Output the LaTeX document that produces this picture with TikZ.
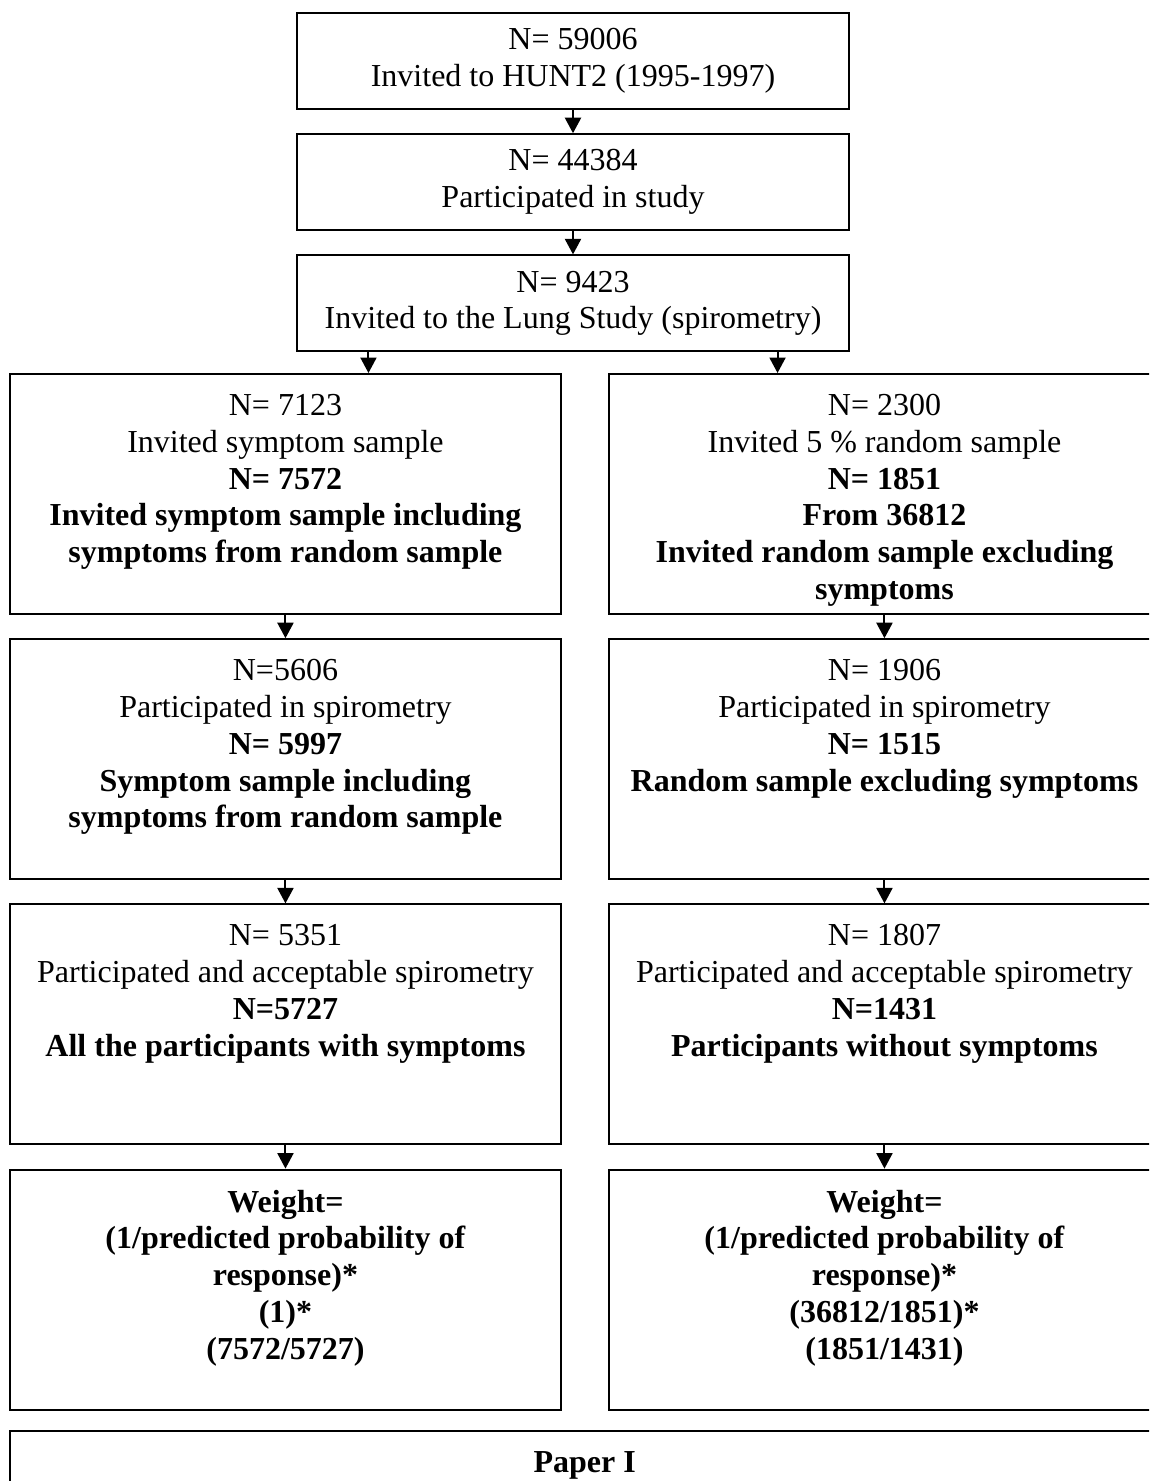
\documentclass[tikz,border=0pt]{standalone}
\usepackage{fontspec}
\setmainfont{Liberation Serif}
\usepackage{tikz}
\usetikzlibrary{arrows.meta,positioning}

\newcommand{\stagetext}[1]{\parbox[c][90pt][t]{206.6pt}{\centering\vspace*{7.6pt}#1\par}}

\begin{document}
\begin{tikzpicture}[->,>={Triangle[width=6pt,length=5.8pt]},x=0.375pt,y=-0.375pt,
                    node distance=8.7pt,line width=0.75pt,
                    font={\fontsize{12}{13.8}\selectfont}]
  \tikzstyle{topbox}=[draw,inner sep=0pt,text width=207pt,minimum height=36pt,align=flush center]
  \tikzstyle{stage}=[draw,inner sep=0pt]
  \tikzstyle{paperbox}=[draw,inner sep=0pt,minimum width=431pt,minimum height=25.5pt]

  \useasboundingbox (0,0) rectangle (1149,1481);
  \clip (0,0) rectangle (1149,1481);

  \node[topbox] (hunt) at (573,12) [anchor=north] {N= 59006\\Invited to HUNT2 (1995-1997)};
  \node[topbox] (part) [below=of hunt] {N= 44384\\Participated in study};
  \node[topbox] (lung) [below=of part] {N= 9423\\Invited to the Lung Study (spirometry)};

  % symptom sample
  \node[stage] (sym1) at (9,373) [anchor=north west] {\stagetext{N= 7123\\Invited symptom sample\\
    \textbf{N= 7572}\\\textbf{Invited symptom sample including}\\\textbf{symptoms from random sample}}};
  \node[stage] (sym2) [below=of sym1] {\stagetext{N=5606\\Participated in spirometry\\
    \textbf{N= 5997}\\\textbf{Symptom sample including}\\\textbf{symptoms from random sample}}};
  \node[stage] (sym3) [below=of sym2] {\stagetext{N= 5351\\Participated and acceptable spirometry\\
    \textbf{N=5727}\\\textbf{All the participants with symptoms}}};
  \node[stage] (sym4) [below=of sym3] {\stagetext{\textbf{Weight=}\\\textbf{(1/predicted probability of}\\
    \textbf{response)*}\\\textbf{(1)*}\\\textbf{(7572/5727)}}};

  % random sample
  \node[stage] (rnd1) at (608,373) [anchor=north west] {\stagetext{N= 2300\\Invited 5 \% random sample\\
    \textbf{N= 1851}\\\textbf{From 36812}\\\textbf{Invited random sample excluding}\\\textbf{symptoms}}};
  \node[stage] (rnd2) [below=of rnd1] {\stagetext{N= 1906\\Participated in spirometry\\
    \textbf{N= 1515}\\\textbf{Random sample excluding symptoms}}};
  \node[stage] (rnd3) [below=of rnd2] {\stagetext{N= 1807\\Participated and acceptable spirometry\\
    \textbf{N=1431}\\\textbf{Participants without symptoms}}};
  \node[stage] (rnd4) [below=of rnd3] {\stagetext{\textbf{Weight=}\\\textbf{(1/predicted probability of}\\
    \textbf{response)*}\\\textbf{(36812/1851)*}\\\textbf{(1851/1431)}}};

  \node[paperbox] (paper) at (9,1430) [anchor=north west] {\textbf{Paper I}};

  \draw (hunt) -- (part);
  \draw (part) -- (lung);
  \draw ([xshift=-76.7pt]lung.south) -- ([xshift=-76.7pt]lung.south |- sym1.north);
  \draw ([xshift=76.7pt]lung.south) -- ([xshift=76.7pt]lung.south |- rnd1.north);
  \draw (sym1) -- (sym2);
  \draw (sym2) -- (sym3);
  \draw (sym3) -- (sym4);
  \draw (rnd1) -- (rnd2);
  \draw (rnd2) -- (rnd3);
  \draw (rnd3) -- (rnd4);
\end{tikzpicture}
\end{document}
